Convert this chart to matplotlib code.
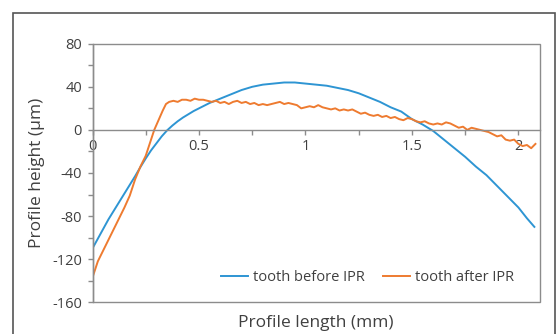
import numpy as np
import matplotlib
matplotlib.use("Agg")
import matplotlib.pyplot as plt
from matplotlib.patches import Rectangle
from matplotlib.ticker import MultipleLocator

# profile of the tooth before IPR (mm, um)
before_x = [0.00, 0.025, 0.05, 0.075, 0.10, 0.125, 0.15, 0.175, 0.20, 0.225,
            0.25, 0.275, 0.30, 0.325, 0.35, 0.375, 0.40, 0.425, 0.45, 0.475,
            0.50, 0.55, 0.60, 0.65, 0.70, 0.75, 0.80, 0.85, 0.90, 0.95,
            1.00, 1.05, 1.10, 1.15, 1.20, 1.25, 1.30, 1.35, 1.40, 1.45,
            1.50, 1.55, 1.60, 1.65, 1.70, 1.75, 1.80, 1.85, 1.90, 1.95,
            2.00, 2.04, 2.075]
before_y = [-110, -101, -92, -83, -75, -67, -59, -51, -43, -34.5,
            -26.5, -19, -12.5, -6, -0.5, 4, 8, 11.5, 14.5, 17.5,
            20, 25, 29, 33, 37, 40, 42, 43, 44, 44,
            43, 42, 41, 39, 37, 34, 30, 26, 21, 17,
            10, 5, -1, -9, -17, -25, -34, -42, -52, -62,
            -72, -82, -90]

# profile of the tooth after IPR
after_x = [0.00, 0.025, 0.05, 0.075, 0.10, 0.125, 0.15, 0.175, 0.20, 0.225,
           0.25, 0.275, 0.29, 0.31, 0.33, 0.345, 0.36, 0.38, 0.40, 0.42,
           0.44, 0.46, 0.48, 0.50, 0.52, 0.54, 0.56, 0.58, 0.60, 0.62,
           0.64, 0.66, 0.68, 0.70, 0.72, 0.74, 0.76, 0.78, 0.80, 0.82,
           0.84, 0.86, 0.88, 0.90, 0.92, 0.94, 0.96, 0.98, 1.00, 1.02,
           1.04, 1.06, 1.08, 1.10, 1.12, 1.14, 1.16, 1.18, 1.20, 1.22,
           1.24, 1.26, 1.28, 1.30, 1.32, 1.34, 1.36, 1.38, 1.40, 1.42,
           1.44, 1.46, 1.48, 1.50, 1.52, 1.54, 1.56, 1.58, 1.60, 1.62,
           1.64, 1.66, 1.68, 1.70, 1.72, 1.74, 1.76, 1.78, 1.80, 1.82,
           1.84, 1.86, 1.88, 1.90, 1.92, 1.94, 1.96, 1.98, 2.00, 2.02,
           2.04, 2.06, 2.08]
after_y = [-137, -122, -112, -102, -92, -82, -72, -61, -46, -34,
           -24, -9, 0, 9, 18, 24, 26, 27, 26, 28,
           28, 27, 29, 28, 28, 27, 26, 27, 25, 26,
           24, 26, 27, 25, 26, 24, 25, 23, 24, 23,
           24, 25, 26, 24, 25, 24, 23, 20, 21, 22,
           21, 23, 21, 20, 19, 20, 18, 19, 18, 19,
           17, 15, 16, 14, 13, 14, 12, 13, 11, 12,
           10, 9, 11, 10, 8, 7, 8, 6, 5, 6,
           5, 7, 6, 4, 2, 3, 0, 2, 1, 0,
           -1, -2, -4, -6, -5, -9, -10, -9, -13, -15,
           -14, -17, -13]

x_ticks = [0, 0.5, 1, 1.5, 2]
x_tick_labels = ["0", "0.5", "1", "1.5", "2"]
y_ticks = [-160, -120, -80, -40, 0, 40, 80]

plt.rcParams['font.family'] = ['Open Sans', 'DejaVu Sans']
plt.rcParams['axes.unicode_minus'] = False
text_col = '#404040'
axis_col = '#8c8c8c'

W, H = 556, 334
fig = plt.figure(figsize=(W / 100, H / 100), dpi=100)
ax = fig.add_axes([92.5 / W, 1 - 302.3 / H, 447.2 / W, 258.6 / H])

ax.plot(before_x, before_y, color='#2e95d3', lw=1.4, label='tooth before IPR')
ax.plot(after_x, after_y, color='#ee7b30', lw=1.4, label='tooth after IPR')

ax.set_xlim(0, 2.1)
ax.set_ylim(-160, 80)

# x axis sits on the zero line, frame drawn separately
ax.spines['bottom'].set_position(('data', 0))
for s in ['top', 'right']:
    ax.spines[s].set_visible(False)
for s in ['bottom', 'left']:
    ax.spines[s].set_color(axis_col)
    ax.spines[s].set_linewidth(1.0)
ax.add_patch(Rectangle((0, 0), 1, 1, transform=ax.transAxes, fill=False,
                       ec=axis_col, lw=1.0, clip_on=False, zorder=3))

ax.set_xticks(x_ticks)
ax.set_xticklabels(x_tick_labels)
ax.xaxis.set_minor_locator(MultipleLocator(0.25))
ax.set_yticks(y_ticks)
ax.yaxis.set_minor_locator(MultipleLocator(20))
ax.tick_params(which='both', direction='out', length=3.6, width=1.0,
               color=axis_col, labelcolor=text_col, labelsize=10.5)
ax.tick_params(axis='x', pad=3)
ax.tick_params(axis='y', pad=4)

fig.text(37 / W, 1 - 173 / H, 'Profile height (µm)', rotation=90,
         ha='center', va='center', fontsize=12.5, color=text_col)
fig.text(316 / W, 1 - 323 / H, 'Profile length (mm)',
         ha='center', va='center', fontsize=12.5, color=text_col)

leg = ax.legend(loc='center', bbox_to_anchor=(0.615, 0.094), ncol=2,
                frameon=False, fontsize=10.5, handlelength=1.85,
                handletextpad=0.35, columnspacing=1.2)
for t in leg.get_texts():
    t.set_color(text_col)

# outer border of the figure
fig.patches.append(Rectangle((13 / W, -0.1), (555 - 13) / W, 1.1 - 13 / H,
                             transform=fig.transFigure, fill=False,
                             ec='#555555', lw=1.2))

fig.savefig('out.png', dpi=100)
